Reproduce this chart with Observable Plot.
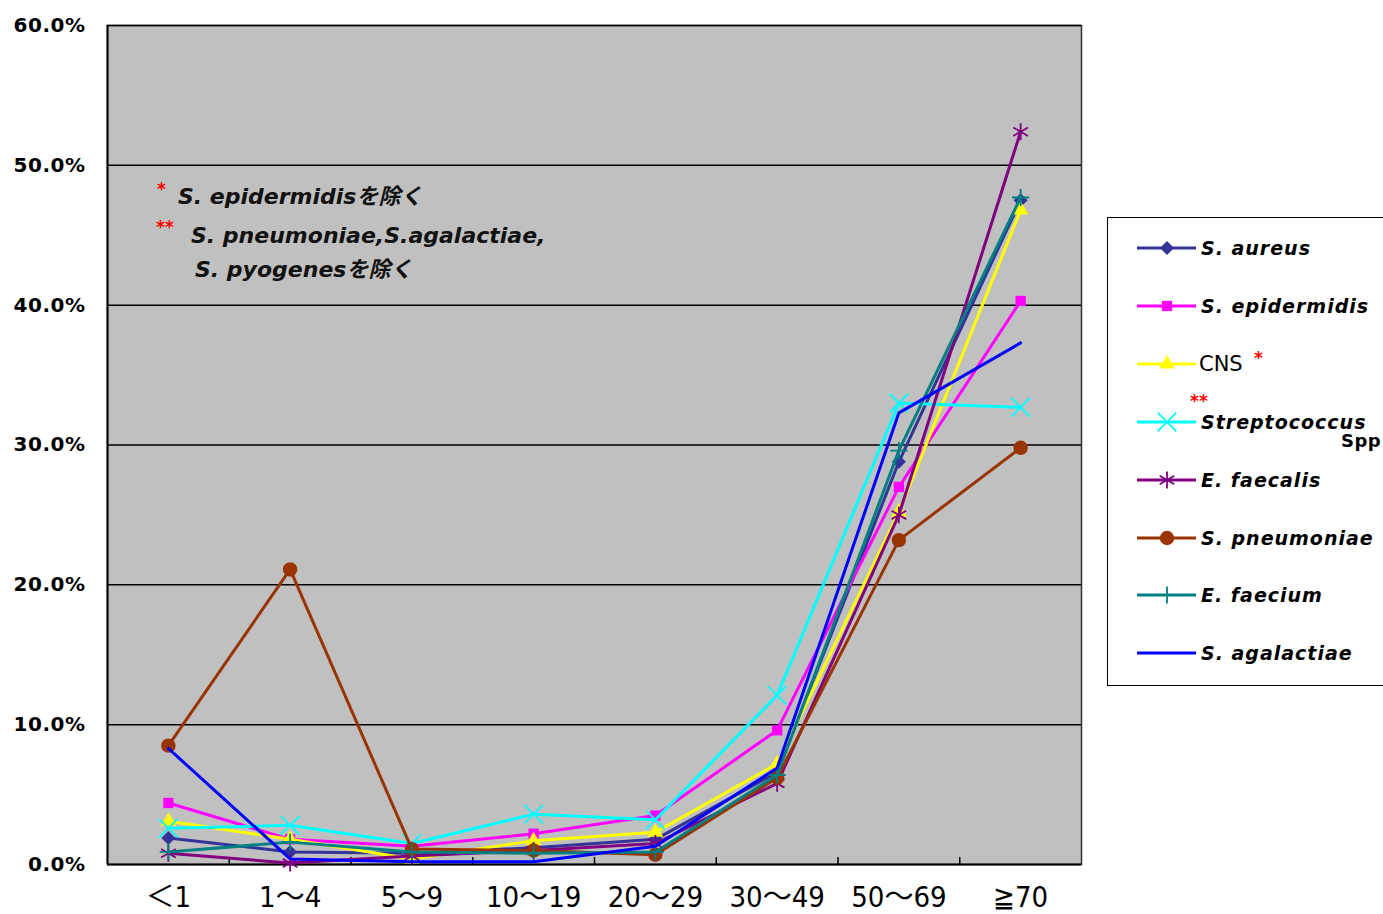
<!DOCTYPE html>
<html><head><meta charset="utf-8">
<script src="https://cdn.jsdelivr.net/npm/d3@7"></script>
<script src="https://cdn.jsdelivr.net/npm/@observablehq/plot@0.6"></script>
<style>
body{margin:0;background:#fff;}
#wrap{position:relative;width:1383px;height:914px;overflow:hidden;background:#fff;}
#chart svg [aria-label^="y-axis"] text{font-family:"DejaVu Sans",sans-serif;font-weight:bold;font-size:20px;letter-spacing:0.5px;fill:#000;}
#chart svg [aria-label^="x-axis"] text{font-family:"DejaVu Sans Condensed","DejaVu Sans","Noto Sans CJK JP",sans-serif;font-stretch:condensed;font-size:29px;fill:#000;}
.note{position:absolute;font-family:"DejaVu Sans","Noto Sans CJK JP",sans-serif;font-style:italic;font-weight:bold;font-size:22px;color:#111;white-space:nowrap;line-height:26px;}
.red{position:absolute;color:#f00;font-family:"DejaVu Sans",sans-serif;font-weight:bold;font-size:17px;line-height:17px;}
#legend{position:absolute;left:1107px;top:217px;width:300px;height:469px;border:1.5px solid #000;background:#fff;box-sizing:border-box;}
.lrow{position:absolute;left:0;height:30px;}
.ltext{position:absolute;left:93px;top:2px;font-family:"DejaVu Sans",sans-serif;font-style:italic;font-weight:bold;font-size:19px;letter-spacing:1px;color:#000;white-space:nowrap;line-height:26px;}
</style></head><body>
<div id="wrap"><div id="chart"></div><div id="notes"></div><div id="legend"></div></div>
<script>
// ---- data ----
const categories = ["＜1", "1～4", "5～9", "10～19", "20～29", "30～49", "50～69", "≧70"];
const seriesNames = ["S. aureus", "S. epidermidis", "CNS", "Streptococcus", "E. faecalis", "S. pneumoniae", "E. faecium", "S. agalactiae"];
const sAureus       = [1.9, 0.9, 0.8, 1.2, 1.8, 6.6, 28.8, 47.5];
const sEpidermidis  = [4.4, 1.8, 1.3, 2.2, 3.5, 9.6, 27.0, 40.3];
const cns           = [3.1, 1.8, 0.4, 1.7, 2.3, 7.2, 25.2, 46.8];
const streptococcus = [2.6, 2.8, 1.5, 3.6, 3.2, 12.1, 33.0, 32.7];
const eFaecalis     = [0.8, 0.1, 0.6, 1.0, 1.5, 5.8, 25.0, 52.4];
const sPneumoniae   = [8.5, 21.1, 1.1, 1.0, 0.7, 6.2, 23.2, 29.8];
const eFaecium      = [0.9, 1.6, 0.9, 0.8, 0.9, 6.4, 29.6, 47.7];
const sAgalactiae   = [8.3, 0.4, 0.2, 0.2, 1.3, 6.9, 32.3, 37.3];
const seriesValues = [sAureus, sEpidermidis, cns, streptococcus, eFaecalis, sPneumoniae, eFaecium, sAgalactiae];
const seriesColors = ["#333399", "#FF00FF", "#FFFF00", "#00FFFF", "#800080", "#993300", "#008080", "#0000FF"];
const seriesSymbols = ["diamond2", "square", "triangle", "times", "asterisk", "circle", "plus", null];
const symbolFilled = [true, true, true, false, false, true, false, false];
const symbolR = [6.3, 5.8, 5.8, 8.5, 8, 7.2, 5.6, 0];
const yTicks = [0, 10, 20, 30, 40, 50, 60];
const noteLines = ["S. epidermidisを除く", "S. pneumoniae,S.agalactiae,", "S. pyogenesを除く"];

// ---- chart ----
const rows = seriesNames.flatMap((s, k) => seriesValues[k].map((v, i) => ({series: s, i, v})));
const boundaries = d3.range(1, categories.length).map(i => i - 0.5);

const marks = [
  Plot.frame({fill: "#C0C0C0", stroke: "#333", strokeWidth: 1.5}),
  Plot.ruleY(yTicks.slice(1), {stroke: "#000", strokeWidth: 1.5}),
  Plot.ruleX(boundaries, {y1: 0, y2: 0.5, stroke: "#000", strokeWidth: 1.5}),
  Plot.ruleY([0], {stroke: "#000", strokeWidth: 2}),
  Plot.ruleX([-0.5], {stroke: "#000", strokeWidth: 2})
];
seriesNames.forEach((s, k) => {
  const d = rows.filter(r => r.series === s);
  marks.push(Plot.line(d, {x: "i", y: "v", stroke: seriesColors[k], strokeWidth: 3}));
  if (seriesSymbols[k]) {
    const opt = {x: "i", y: "v", symbol: seriesSymbols[k], r: symbolR[k]};
    if (symbolFilled[k]) { opt.fill = seriesColors[k]; opt.stroke = "none"; }
    else { opt.stroke = seriesColors[k]; opt.strokeWidth = 1.8; opt.fill = "none"; }
    marks.push(Plot.dot(d, opt));
  }
});

const chart = Plot.plot({
  width: 1383, height: 914,
  marginLeft: 107, marginRight: 302, marginTop: 25, marginBottom: 50,
  style: {background: "transparent", overflow: "visible"},
  x: {domain: [-0.5, categories.length - 0.5], ticks: d3.range(categories.length), tickFormat: i => categories[i], tickSize: 0, tickPadding: 22, label: null},
  y: {domain: [0, 60], ticks: yTicks, tickFormat: d => d.toFixed(1) + "%", tickSize: 0, tickPadding: 22, label: null},
  marks
});
document.getElementById("chart").appendChild(chart);

// ---- annotation ----
const notes = document.getElementById("notes");
const notePos = [[178, 184], [191, 223], [195, 257]];
noteLines.forEach((t, k) => {
  const el = document.createElement("div");
  el.className = "note"; el.textContent = t;
  el.style.left = notePos[k][0] + "px"; el.style.top = notePos[k][1] + "px";
  notes.appendChild(el);
});
[["*", 157, 181], ["**", 156, 219]].forEach(([t, x, y]) => {
  const el = document.createElement("div");
  el.className = "red"; el.textContent = t;
  el.style.left = x + "px"; el.style.top = y + "px";
  notes.appendChild(el);
});

// ---- legend ----
const legend = document.getElementById("legend");
const rowStep = 57.9;
seriesNames.forEach((s, k) => {
  const cy = 30 + k * rowStep;
  const row = document.createElement("div");
  row.className = "lrow";
  row.style.top = (cy - 15) + "px";
  const svg = d3.create("svg").attr("width", 92).attr("height", 30).style("position", "absolute").style("left", "0px").style("top", "0px");
  svg.append("line").attr("x1", 29).attr("x2", 88).attr("y1", 15).attr("y2", 15).attr("stroke", seriesColors[k]).attr("stroke-width", 3);
  if (seriesSymbols[k]) {
    const symMap = {diamond2: d3.symbolDiamond2, square: d3.symbolSquare, triangle: d3.symbolTriangle, times: d3.symbolTimes, asterisk: d3.symbolAsterisk, circle: d3.symbolCircle, plus: d3.symbolPlus};
    const p = svg.append("path").attr("transform", "translate(59,15)")
      .attr("d", d3.symbol(symMap[seriesSymbols[k]], Math.PI * symbolR[k] * symbolR[k])());
    if (symbolFilled[k]) p.attr("fill", seriesColors[k]);
    else p.attr("fill", "none").attr("stroke", seriesColors[k]).attr("stroke-width", 1.8);
  }
  row.appendChild(svg.node());
  const tx = document.createElement("div");
  tx.className = "ltext";
  tx.textContent = s;
  if (s === "CNS") { tx.style.fontStyle = "normal"; tx.style.fontWeight = "normal"; tx.style.letterSpacing = "0px"; tx.style.left = "91px"; tx.style.fontSize = "21px"; }
  row.appendChild(tx);
  legend.appendChild(row);
  if (s === "CNS") {
    const r = document.createElement("div"); r.className = "red"; r.textContent = "*";
    r.style.left = "146px"; r.style.top = (cy - 14) + "px"; legend.appendChild(r);
  }
  if (s === "Streptococcus") {
    const r = document.createElement("div"); r.className = "red"; r.textContent = "**";
    r.style.left = "82px"; r.style.top = (cy - 29) + "px"; legend.appendChild(r);
    const spp = document.createElement("div"); spp.className = "ltext"; spp.textContent = "Spp";
    spp.style.fontStyle = "normal"; spp.style.letterSpacing = "0.5px"; spp.style.left = "233px"; spp.style.top = (cy + 6) + "px"; spp.style.fontSize = "18px";
    legend.appendChild(spp);
  }
});
</script>
</body></html>
